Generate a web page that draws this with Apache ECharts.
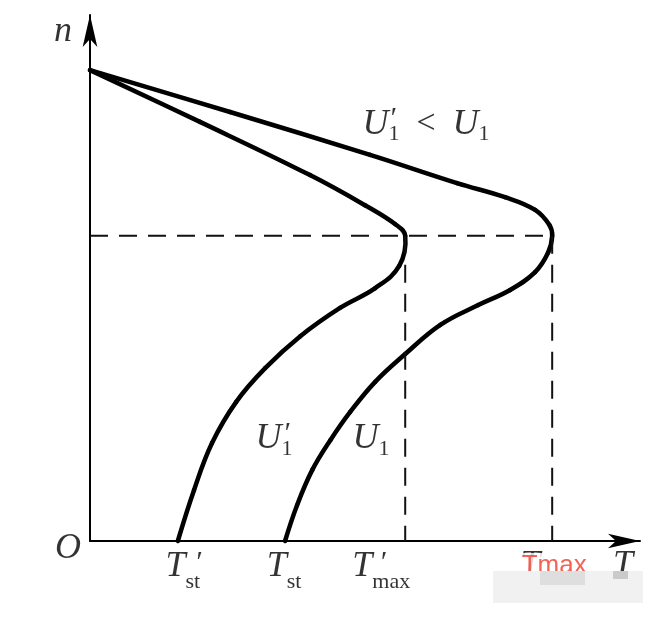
<!DOCTYPE html>
<html>
<head>
<meta charset="utf-8">
<title>n-T</title>
<script src="https://cdn.jsdelivr.net/npm/echarts@6/dist/echarts.min.js"></script>
<style>
  html, body { margin: 0; padding: 0; background: #fff; }
  #chart { width: 665px; height: 617px; }
</style>
</head>
<body>
<div id="chart"></div>
<script>
// 机械特性 n = f(T)，T 以 Tmax 为 1，n 以同步转速 n1 为 1
const xMax = 1.19
const yMax = 1.117

const tMax = 1.0        // 最大转矩 (两条曲线相同)
const tMaxP = 0.682     // 降压后的最大转矩
const nCrit = 0.648     // 临界转速
const tSt = 0.422       // 起动转矩 U1
const tStP = 0.19       // 起动转矩 U1'

// U1 曲线
const u1T = [0, 0.303, 0.606, 0.794, 0.898, 0.963, 0.994, 1.0, 0.991, 0.963, 0.909, 0.840, 0.758, 0.682, 0.617, 0.563, 0.520, 0.481, 0.448, 0.422]
const u1N = [1.0, 0.911, 0.820, 0.760, 0.730, 0.703, 0.671, 0.648, 0.612, 0.571, 0.533, 0.501, 0.459, 0.397, 0.338, 0.274, 0.214, 0.151, 0.076, 0]

// U1' 曲线
const u1pT = [0, 0.238, 0.476, 0.595, 0.660, 0.682, 0.669, 0.617, 0.541, 0.455, 0.379, 0.316, 0.264, 0.225, 0.19]
const u1pN = [1.0, 0.890, 0.777, 0.713, 0.673, 0.648, 0.584, 0.537, 0.495, 0.435, 0.367, 0.295, 0.208, 0.108, 0]

const zip = (a, b) => a.map((v, i) => [v, b[i]])

const serif = 'Liberation Serif, Times New Roman, serif'
const ink = '#000'
const rich = {
  m: { fontFamily: serif, fontStyle: 'italic', fontSize: 36, color: ink },
  t: { fontFamily: serif, fontStyle: 'italic', fontSize: 36, color: ink, verticalAlign: 'bottom', padding: [0, 0, 8, 0] },
  u: { fontFamily: serif, fontStyle: 'italic', fontSize: 36, color: ink, verticalAlign: 'bottom', padding: [0, 0, 3, 0] },
  r: { fontFamily: serif, fontSize: 34, color: ink, verticalAlign: 'bottom', padding: [0, 0, 4, 0] },
  s: { fontFamily: serif, fontSize: 22, color: ink, verticalAlign: 'bottom' },
  p: { fontFamily: serif, fontStyle: 'italic', fontSize: 30, color: ink },
  red: { fontFamily: 'Liberation Sans, Arial, sans-serif', fontSize: 26, color: '#f2392b', backgroundColor: '#fff', padding: [0, 2] }
}

function lab (x, y, txt, dx, dy) {
  return { value: [x, y], label: { formatter: txt, offset: [dx, dy] } }
}

const labels = [
  lab(0, yMax, '{m|n}', -27, 17),
  lab(0, 0, '{m|O}', -22, 8),
  lab(xMax, 0, '{m|T}', -17, 25),
  lab(tStP, 0, '{t|T}{s|st}', 5, 30),
  lab(tStP, 0, '{p|′}', 20, 22),
  lab(tSt, 0, '{t|T}{s|st}', -1, 30),
  lab(tMaxP, 0, '{t|T}{s|max}', -24, 30),
  lab(tMaxP, 0, '{p|′}', -23, 22),
  lab(tMax, 0, '{m|T}', -22, 25),
  lab(tMax, 0, '{red|Tmax}', 2, 25),
  lab(0.398, 0.214, '{u|U}{s|1}', 0, 0),
  lab(0.398, 0.214, '{p|′}', 12, -6),
  lab(0.608, 0.214, '{u|U}{s|1}', 0, 0),
  lab(0.727, 0.882, '{u|U}{s|1}{r|  <  }{u|U}{s|1}', 0, 0),
  lab(0.727, 0.882, '{p|′}', -34, -7)
]

// 曲线用 custom 系列画：读出的点经坐标轴换算后，用三次贝塞尔逐段连接
function curveSeries (name, pts) {
  const k = 0.4
  return {
    name: name,
    type: 'custom',
    coordinateSystem: 'cartesian2d',
    clip: false,
    silent: true,
    encode: { x: 0, y: 1 },
    data: pts,
    renderItem: function (params, api) {
      if (params.dataIndex !== 0) return null
      const P = pts.map(p => api.coord(p))
      const n = P.length
      const cin = []
      const cout = []
      for (let i = 0; i < n; i++) {
        if (i === 0 || i === n - 1) {
          cin.push(P[i]); cout.push(P[i])
          continue
        }
        const d0 = Math.hypot(P[i][0] - P[i - 1][0], P[i][1] - P[i - 1][1])
        const d1 = Math.hypot(P[i + 1][0] - P[i][0], P[i + 1][1] - P[i][1])
        const vx = P[i + 1][0] - P[i - 1][0]
        const vy = P[i + 1][1] - P[i - 1][1]
        const r1 = d1 / (d0 + d1)
        const r0 = d0 / (d0 + d1)
        cout.push([P[i][0] + vx * k * r1, P[i][1] + vy * k * r1])
        cin.push([P[i][0] - vx * k * r0, P[i][1] - vy * k * r0])
      }
      const children = []
      for (let i = 0; i < n - 1; i++) {
        children.push({
          type: 'bezierCurve',
          shape: {
            x1: P[i][0], y1: P[i][1], x2: P[i + 1][0], y2: P[i + 1][1],
            cpx1: cout[i][0], cpy1: cout[i][1], cpx2: cin[i + 1][0], cpy2: cin[i + 1][1]
          },
          style: { stroke: '#000', lineWidth: 4.5, fill: null, lineCap: 'round' }
        })
      }
      return { type: 'group', children: children }
    }
  }
}

const chart = echarts.init(document.getElementById('chart'))

const dashStyle = { color: '#111', width: 2, type: [18, 11] }

const option = {
  animation: false,
  backgroundColor: '#fff',
  grid: { left: 90, top: 15, width: 550, height: 526 },
  xAxis: {
    type: 'value',
    min: 0,
    max: xMax,
    axisLine: { lineStyle: { color: '#000', width: 2 }, symbol: ['none', 'arrow'], symbolSize: [11, 32] },
    axisTick: { show: false },
    axisLabel: { show: false },
    splitLine: { show: false }
  },
  yAxis: {
    type: 'value',
    min: 0,
    max: yMax,
    axisLine: { lineStyle: { color: '#000', width: 2 }, symbol: ['none', 'arrow'], symbolSize: [11, 32] },
    axisTick: { show: false },
    axisLabel: { show: false },
    splitLine: { show: false }
  },
  series: [
    // 虚线
    { type: 'line', data: [[0, nCrit], [tMax, nCrit]], symbol: 'none', lineStyle: dashStyle, silent: true },
    { type: 'line', data: [[tMaxP, nCrit], [tMaxP, 0]], symbol: 'none', lineStyle: dashStyle, silent: true },
    { type: 'line', data: [[tMax, nCrit], [tMax, 0]], symbol: 'none', lineStyle: dashStyle, silent: true },
    // 曲线
    curveSeries('U1', zip(u1T, u1N)),
    curveSeries("U1'", zip(u1pT, u1pN)),
    // 文字
    {
      type: 'scatter',
      symbolSize: 0,
      clip: false,
      silent: true,
      z: 10,
      label: { show: true, position: 'inside', rich: rich },
      data: labels
    }
  ],
  graphic: [
    { type: 'rect', left: 493, top: 571, shape: { width: 150, height: 32 }, style: { fill: '#f1f1f1' }, z: 100 },
    { type: 'rect', left: 540, top: 571, shape: { width: 45, height: 14 }, style: { fill: '#dedede' }, z: 100 },
    { type: 'rect', left: 613, top: 571, shape: { width: 15, height: 8 }, style: { fill: '#cacaca' }, z: 100 }
  ]
}

chart.setOption(option)
</script>
</body>
</html>
